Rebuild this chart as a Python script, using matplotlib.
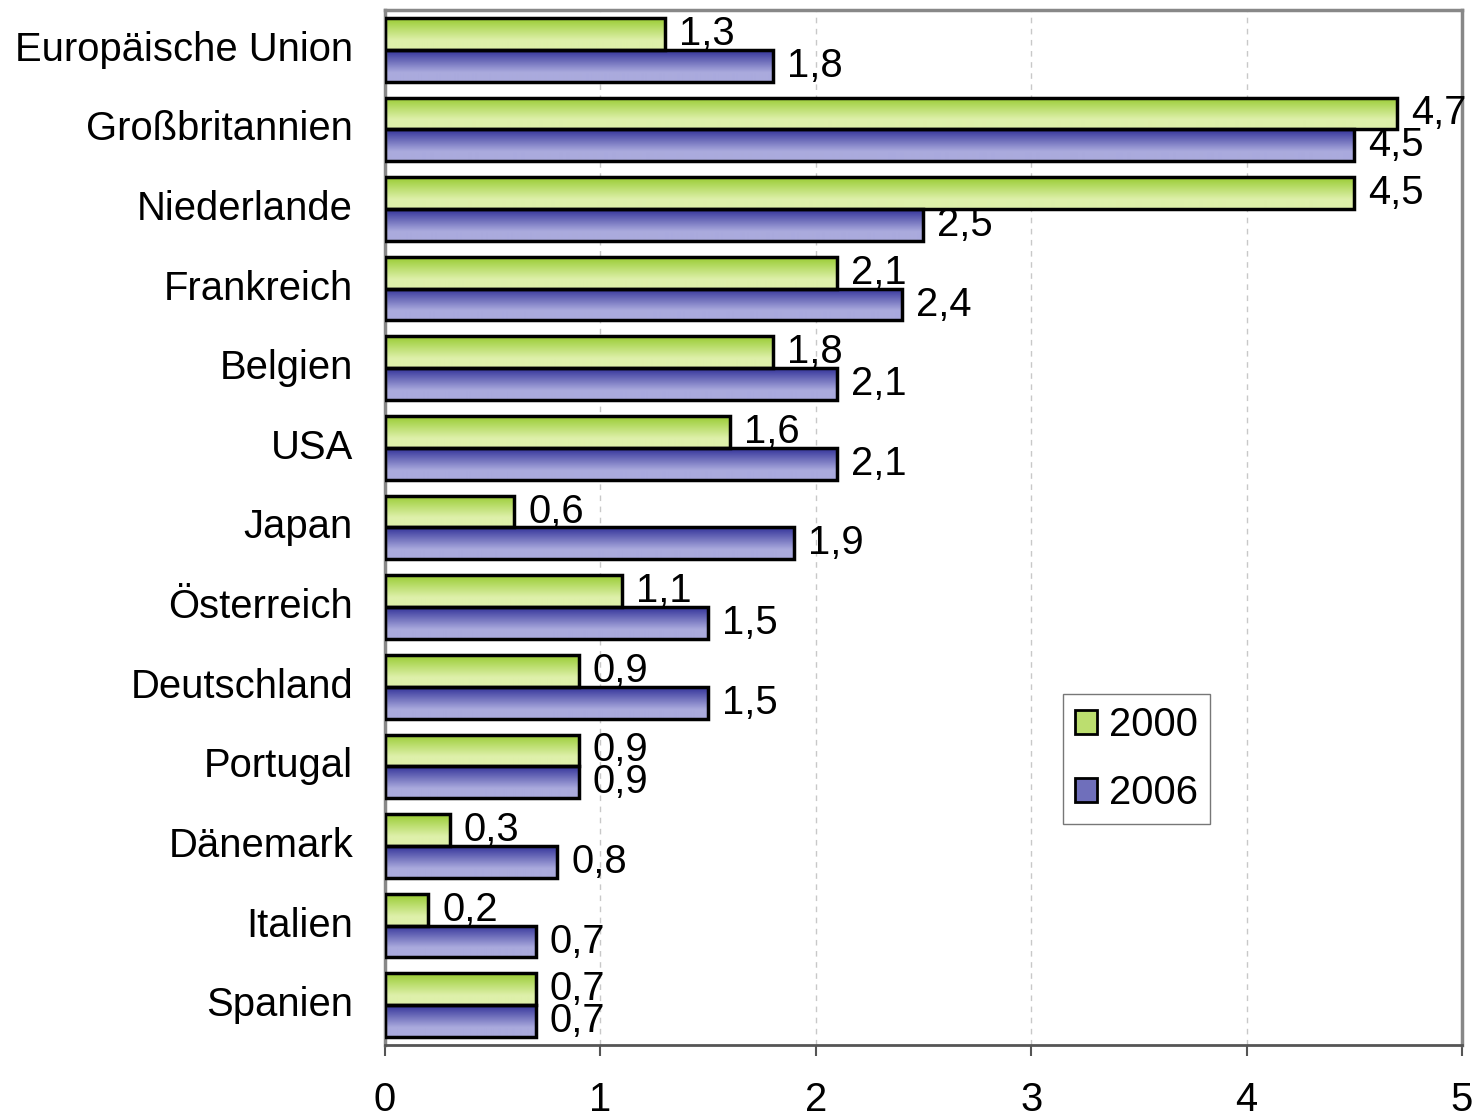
import numpy as np
import matplotlib
matplotlib.use("Agg")
import matplotlib.pyplot as plt
import matplotlib.transforms as mtransforms
from matplotlib.patches import Patch

plt.rcParams["font.family"] = ["Liberation Sans", "DejaVu Sans"]

countries = ["Europäische Union", "Großbritannien", "Niederlande", "Frankreich",
             "Belgien", "USA", "Japan", "Österreich", "Deutschland", "Portugal",
             "Dänemark", "Italien", "Spanien"]
values_2000 = [1.3, 4.7, 4.5, 2.1, 1.8, 1.6, 0.6, 1.1, 0.9, 0.9, 0.3, 0.2, 0.7]
values_2006 = [1.8, 4.5, 2.5, 2.4, 2.1, 2.1, 1.9, 1.5, 1.5, 0.9, 0.8, 0.7, 0.7]
series_labels = ["2000", "2006"]

green_top, green_bot = np.array([0x99, 0xcc, 0x33]) / 255, np.array([0xde, 0xf0, 0xaa]) / 255
blue_top, blue_bot = np.array([0x33, 0x33, 0x99]) / 255, np.array([0xaa, 0xaa, 0xdd]) / 255


def gradient(top, bot, n=64):
    t = np.clip(np.linspace(0, 1, n) / 0.7, 0, 1)[:, None, None]
    return top * (1 - t) + bot * t


fs = 28.8
fig = plt.figure(figsize=(14.79, 11.19), dpi=100)
ax = fig.add_axes([0.2603, 0.0661, 0.7282, 0.925])

h = 0.4
y = np.arange(len(countries))
grad_g = gradient(green_top, green_bot)
grad_b = gradient(blue_top, blue_bot)

for i in range(len(countries)):
    for v, off, grad in [(values_2000[i], -h / 2, grad_g), (values_2006[i], h / 2, grad_b)]:
        yc = y[i] + off
        ax.imshow(grad, extent=(0, v, yc + h / 2, yc - h / 2), aspect="auto",
                  origin="upper", zorder=2, interpolation="bilinear")
        ax.text(v + 0.065, yc, f"{v:.1f}".replace(".", ","), va="center", ha="left",
                fontsize=fs, zorder=4)

ax.barh(y - h / 2, values_2000, height=h, fill=False, edgecolor="black", linewidth=2.5, zorder=3)
ax.barh(y + h / 2, values_2006, height=h, fill=False, edgecolor="black", linewidth=2.5, zorder=3)

ax.set_xlim(0, 5)
ax.set_ylim(len(countries) - 0.5, -0.5)
ax.set_xticks(range(6))
ax.set_yticks(y)
ax.set_yticklabels(countries)
ax.tick_params(axis="x", labelsize=fs, length=8, width=1.5, color="#555555", pad=18, direction="out")
ax.tick_params(axis="y", labelsize=fs, length=0, pad=23)

# category labels sit a little above the band centre in the original
shift = mtransforms.ScaledTranslation(0, 4 / 100, fig.dpi_scale_trans)
for lab in ax.get_yticklabels():
    lab.set_transform(lab.get_transform() + shift)

ax.grid(axis="x", linestyle=(0, (4, 4)), color="#c8c8c8", linewidth=1, zorder=0)
ax.set_axisbelow(True)

for side in ["top", "right", "left"]:
    ax.spines[side].set_color("#888888")
    ax.spines[side].set_linewidth(2.5)
ax.spines["bottom"].set_color("#555555")
ax.spines["bottom"].set_linewidth(2)

handles = [Patch(facecolor=(green_top + green_bot) / 2, edgecolor="black", linewidth=2),
           Patch(facecolor=(blue_top + blue_bot) / 2, edgecolor="black", linewidth=2)]
leg = ax.legend(handles, series_labels, loc="lower left", bbox_to_anchor=(0.63, 0.2135),
                borderaxespad=0, fontsize=fs, fancybox=False, frameon=True,
                handlelength=0.55, handleheight=0.55, handletextpad=0.3,
                labelspacing=0.75, borderpad=0.3)
leg.get_frame().set_edgecolor("#555555")
leg.get_frame().set_linewidth(1)

plt.savefig("out.png", dpi=100)
